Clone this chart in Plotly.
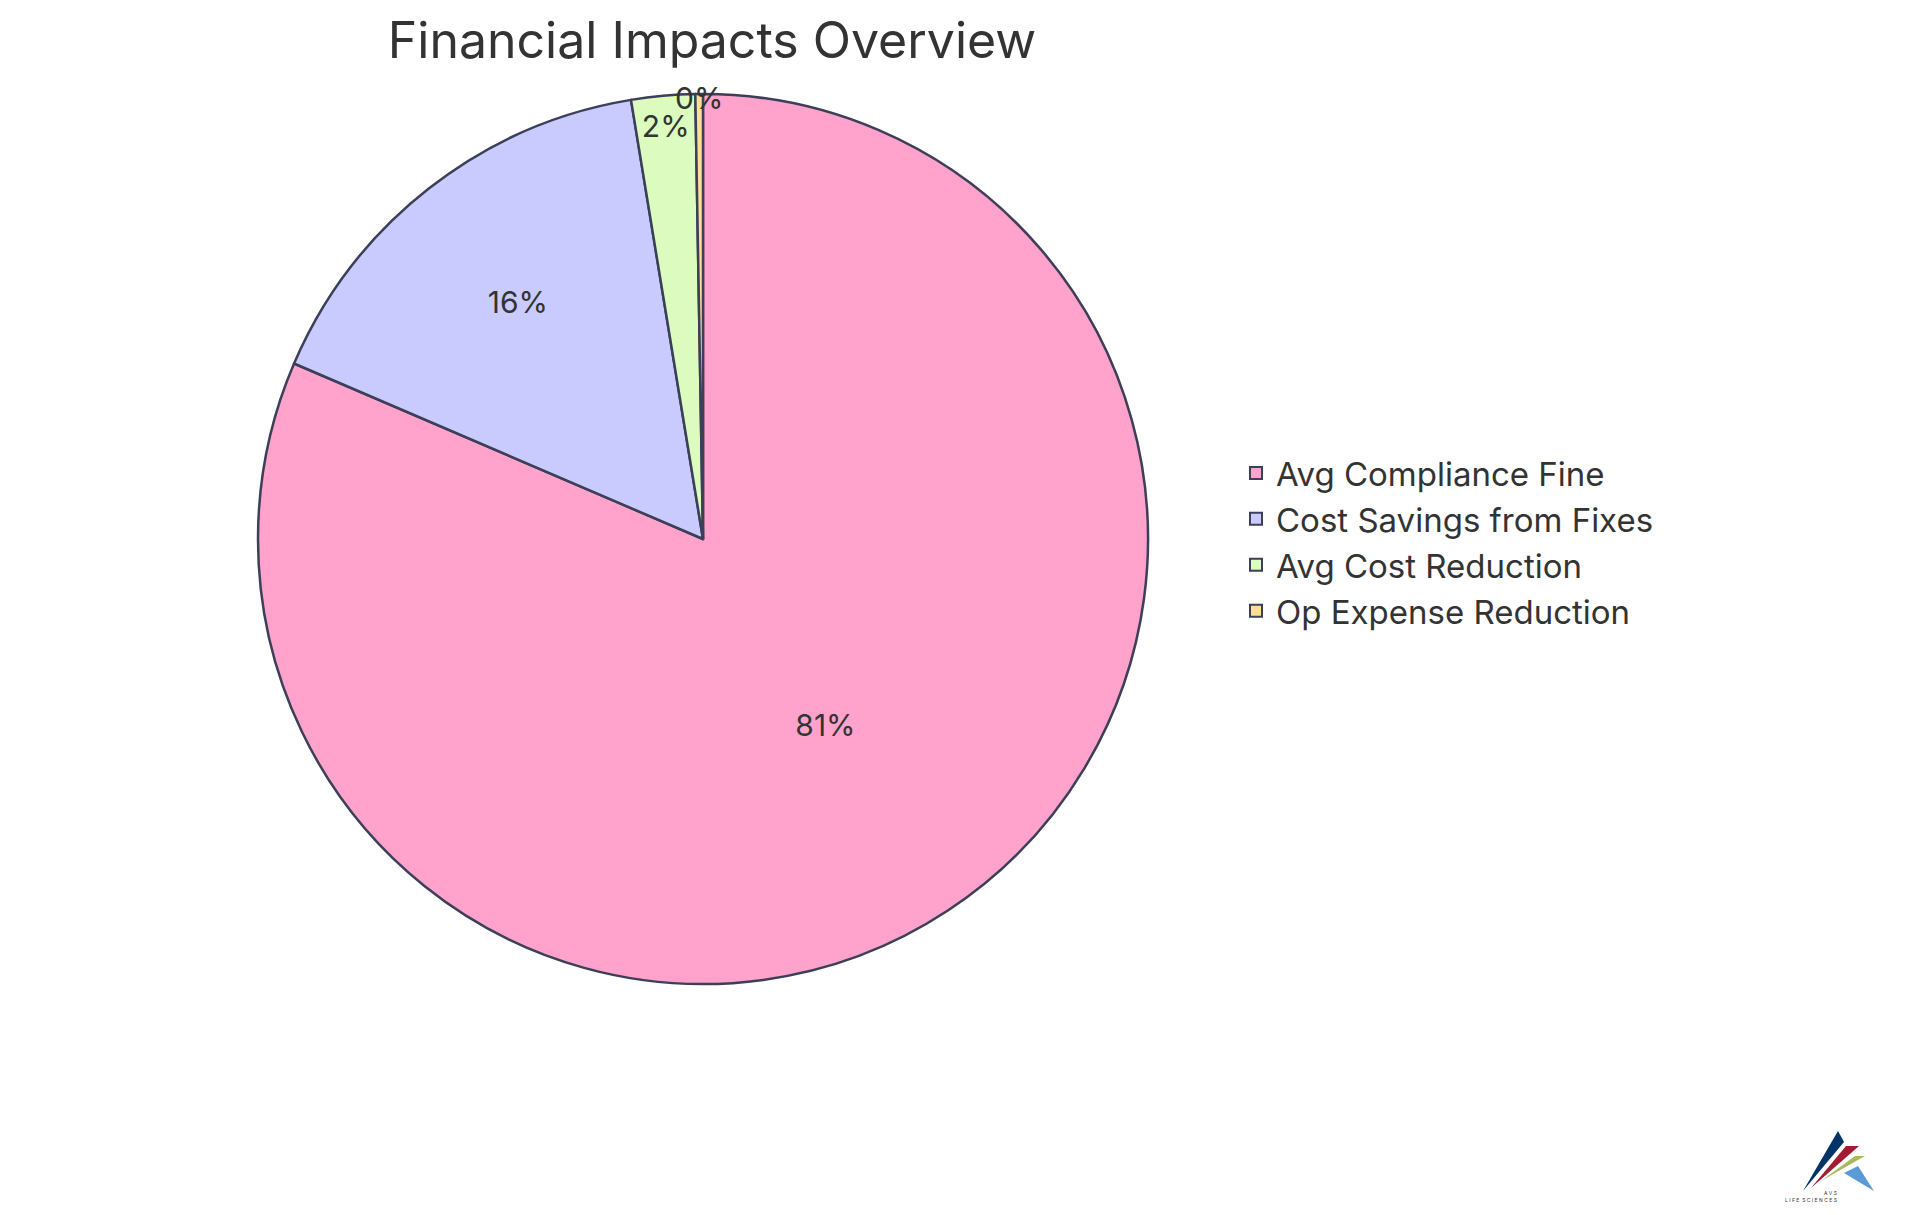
import plotly.graph_objects as go

labels = ["Avg Compliance Fine", "Cost Savings from Fixes", "Avg Cost Reduction", "Op Expense Reduction"]
values = [14.8, 2.9, 0.42, 0.05]
colors = ["#FFA3CD", "#C9CBFF", "#DBFBBF", "#FFDF94"]

W, H = 1920, 1215
cx, cy, r = 695, 531, 445
fig = go.Figure(go.Pie(
    labels=labels, values=values, sort=False, direction="clockwise", rotation=0,
    marker=dict(colors=colors, line=dict(color="#3C3F58", width=2.5)),
    textinfo="percent", texttemplate="%{percent:.0%}", textposition="inside",
    insidetextorientation="horizontal",
    textfont=dict(size=30, color="#333333", family="Inter"),
    domain=dict(x=[(cx-r)/W, (cx+r)/W], y=[(H-cy-r)/H, (H-cy+r)/H]),
))
fig.update_layout(
    width=W, height=H, margin=dict(l=0, r=0, t=0, b=0),
    paper_bgcolor="white", font=dict(family="Inter", color="#333333"),
    title=dict(text="Financial Impacts Overview", x=704/W, xanchor="center", y=1-32/H, yanchor="middle",
               font=dict(size=50, color="#333333")),
    legend=dict(x=1228/W, y=1-437/H, xanchor="left", yanchor="top", font=dict(size=33),
                itemsizing="constant", tracegroupgap=0),
    uniformtext=dict(minsize=30, mode="show"),
)

def tri(pts, col):
    p = " L ".join(f"{x/W} {1-y/H}" for x, y in pts)
    fig.add_shape(type="path", xref="paper", yref="paper", path=f"M {p} Z",
                  fillcolor=col, line_width=0)

tri([(1795, 1183), (1830, 1123), (1836, 1134)], "#003366")
tri([(1803, 1180), (1838, 1138), (1851, 1138)], "#A31B32")
tri([(1813, 1173), (1847, 1148), (1857, 1148)], "#A8BA5E")
tri([(1836, 1165), (1850, 1158), (1866, 1183)], "#5B9BD5")
fig.add_annotation(text="A V S", xref="paper", yref="paper", x=1831/W, y=1-1185/H,
                   showarrow=False, font=dict(size=5, color="#333333"), yanchor="middle")
fig.add_annotation(text="L I F E  S C I E N C E S", xref="paper", yref="paper", x=1831/W, y=1-1192/H,
                   showarrow=False, font=dict(size=5, color="#333333"), yanchor="middle")
fig.write_html("out.html")
